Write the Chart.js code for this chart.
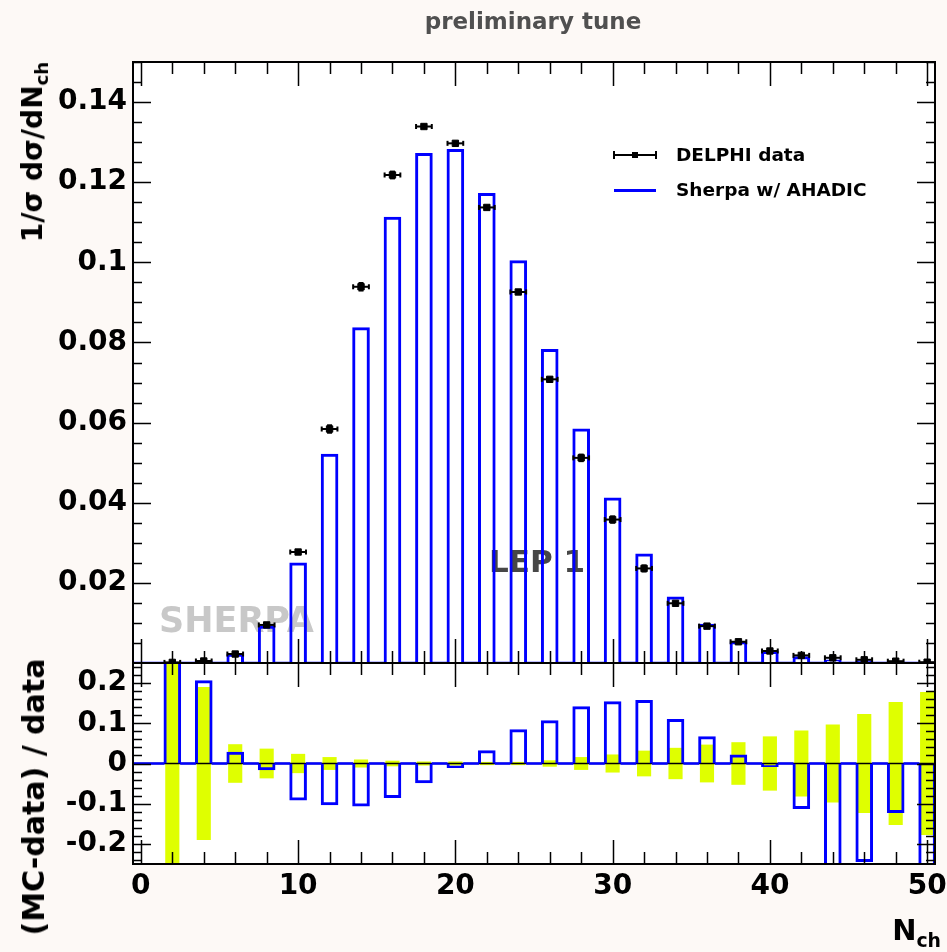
<!DOCTYPE html>
<html>
<head>
<meta charset="utf-8">
<script src="https://cdn.jsdelivr.net/npm/chart.js@4.4.0/dist/chart.umd.min.js"></script>
<style>
html,body{margin:0;padding:0;background:#fdf9f6;}
#wrap{position:relative;width:947px;height:952px;overflow:hidden;font-family:"DejaVu Sans",sans-serif;font-weight:bold;}
canvas{position:absolute;left:0;top:0;}
.t{position:absolute;white-space:nowrap;line-height:1;color:#000;}
.t sub{font-size:65%;vertical-align:-0.35em;line-height:0;}
.mk{position:absolute;}
</style>
</head>
<body>
<div id="wrap">
<canvas id="topChart" width="947" height="952"></canvas>
<canvas id="botChart" width="947" height="952"></canvas>
<div class="t" id="title" style="left:533px;top:10px;font-size:23px;color:#505050;transform:translateX(-50%);">preliminary tune</div>
<div class="mk" style="left:613px;top:154px;width:44px;height:2px;background:#000;"></div>
<div class="mk" style="left:613px;top:151px;width:2px;height:8px;background:#000;"></div>
<div class="mk" style="left:655px;top:151px;width:2px;height:8px;background:#000;"></div>
<div class="mk" style="left:632px;top:152px;width:6px;height:6px;background:#000;"></div>
<div class="t" style="left:676px;top:155px;font-size:18.5px;transform:translateY(-50%);">DELPHI data</div>
<div class="mk" style="left:614px;top:189px;width:42px;height:3px;background:#0000ff;"></div>
<div class="t" style="left:676px;top:190px;font-size:18.5px;transform:translateY(-50%);">Sherpa w/ AHADIC</div>
<div class="t" style="left:33px;top:152px;font-size:28px;transform:translate(-50%,-50%) rotate(-90deg);">1/σ dσ/dN<sub>ch</sub></div>
<div class="t" style="left:34px;top:797px;font-size:30px;transform:translate(-50%,-50%) rotate(-90deg);">(MC-data) / data</div>
<div class="t" style="right:6px;top:916px;font-size:29px;">N<sub>ch</sub></div>
</div>
<script>
// ---- data ----
const nch = [2,4,6,8,10,12,14,16,18,20,22,24,26,28,30,32,34,36,38,40,42,44,46,48,50];
const mcValues = [0.0002,0.0006,0.0023,0.0093,0.0251,0.0522,0.0838,0.1114,0.1273,0.1283,0.1173,0.1005,0.0784,0.0585,0.0413,0.0273,0.0166,0.0098,0.0054,0.0030,0.0017,0.0009,0.0006,0.0004,0.0001];
const dataValues = [0.00015,0.0005,0.00224,0.0095,0.0277,0.0584,0.0939,0.1218,0.1339,0.1297,0.1137,0.0926,0.0708,0.0512,0.0358,0.0236,0.0149,0.0092,0.0053,0.0030,0.0019,0.0013,0.0008,0.00045,0.0002];
const dataErrors = [0.0001,0.0001,0.0001,0.00035,0.00066,0.00093,0.00094,0.00085,0.00067,0.00065,0.00045,0.00037,0.00057,0.00082,0.0008,0.00076,0.00058,0.00043,0.00028,0.0002,0.00016,0.00012,0.0001,0.00007,0.00004];
const ratioValues = [1.0,0.207,0.029,-0.017,-0.092,-0.104,-0.107,-0.086,-0.049,-0.011,0.033,0.085,0.1075,0.1425,0.155,0.158,0.111,0.0675,0.0225,-0.009,-0.113,-0.32,-0.245,-0.123,-0.5];
const ratioErrors = [0.6,0.19,0.048,0.037,0.024,0.016,0.010,0.007,0.005,0.005,0.004,0.004,0.008,0.016,0.0225,0.032,0.039,0.047,0.053,0.0675,0.082,0.097,0.123,0.153,0.178];
const xTicks = [0,10,20,30,40,50];
const upperYTicks = [0.02,0.04,0.06,0.08,0.1,0.12,0.14];
const lowerYTicks = [-0.2,-0.1,0,0.1,0.2];
const xMin = -0.5, xMax = 50.5;
const binHalfWidth = 0.5;

const BLUE = '#0000ff';
const YELLOW = '#dfff00';
const FONT = 'DejaVu Sans';

// histogram baseline segments between the filled bins
const baseline = [];
let edge = xMin;
for (const n of nch) {
  baseline.push({x: edge, y: 0}, {x: n - binHalfWidth, y: 0}, {x: n, y: null});
  edge = n + binHalfWidth;
}
if (edge < xMax) baseline.push({x: edge, y: 0}, {x: xMax, y: 0});

const whiteArea = {
  id: 'whiteArea',
  beforeDraw(chart) {
    const {ctx, chartArea: a} = chart;
    ctx.save();
    ctx.fillStyle = '#ffffff';
    ctx.fillRect(a.left, a.top, a.right - a.left, a.bottom - a.top);
    ctx.restore();
  }
};

const watermarks = {
  id: 'watermarks',
  beforeDatasetsDraw(chart) {
    const ctx = chart.ctx;
    ctx.save();
    ctx.textBaseline = 'alphabetic';
    ctx.font = 'bold 35px "' + FONT + '"';
    ctx.fillStyle = '#c8c8c8';
    ctx.fillText('SHERPA', 159, 632);
    ctx.font = 'bold 31px "' + FONT + '"';
    ctx.fillStyle = '#474747';
    ctx.fillText('LEP 1', 489, 572);
    ctx.restore();
  }
};

const errorBars = {
  id: 'errorBars',
  afterDatasetsDraw(chart) {
    const {ctx, chartArea: a, scales: {x, y}} = chart;
    ctx.save();
    ctx.beginPath();
    ctx.rect(a.left, a.top, a.right - a.left, a.bottom - a.top);
    ctx.clip();
    ctx.strokeStyle = '#000';
    ctx.fillStyle = '#000';
    ctx.lineWidth = 2;
    nch.forEach((n, i) => {
      const yc = y.getPixelForValue(dataValues[i]);
      const x0 = x.getPixelForValue(n - binHalfWidth);
      const x1 = x.getPixelForValue(n + binHalfWidth);
      const xc = x.getPixelForValue(n);
      ctx.beginPath();
      ctx.moveTo(x0, yc); ctx.lineTo(x1, yc);
      ctx.stroke();
      ctx.fillRect(x0 - 1, yc - 2.5, 2, 5);
      ctx.fillRect(x1 - 1, yc - 2.5, 2, 5);
      const yt = y.getPixelForValue(dataValues[i] + dataErrors[i]);
      const yb = y.getPixelForValue(dataValues[i] - dataErrors[i]);
      ctx.beginPath();
      ctx.moveTo(xc, yt); ctx.lineTo(xc, yb);
      ctx.stroke();
      if (yb - yt > 6) {
        ctx.fillRect(xc - 2.5, yt - 1, 5, 2);
        ctx.fillRect(xc - 2.5, yb - 1, 5, 2);
      }
    });
    ctx.restore();
  }
};

const frameTicks = {
  id: 'frameTicks',
  afterDraw(chart, args, o) {
    const {ctx, chartArea: a, scales: {x, y}} = chart;
    ctx.save();
    ctx.strokeStyle = '#000';
    ctx.lineWidth = 1.5;
    const isMajor = (v, step) => Math.abs(v / step - Math.round(v / step)) < 1e-6;
    ctx.beginPath();
    for (let k = Math.ceil(x.min / o.xMinor); k * o.xMinor <= x.max + 1e-9; k++) {
      const v = k * o.xMinor;
      const px = Math.round(x.getPixelForValue(v)) + 0.5;
      const len = isMajor(v, o.xMajor) ? 24 : 12;
      ctx.moveTo(px, a.bottom); ctx.lineTo(px, a.bottom - len);
      ctx.moveTo(px, a.top); ctx.lineTo(px, a.top + len);
    }
    for (let k = Math.ceil((y.min - 1e-9) / o.yMinor); k * o.yMinor <= y.max + 1e-9; k++) {
      const v = k * o.yMinor;
      const py = Math.round(y.getPixelForValue(v)) + 0.5;
      const len = isMajor(v, o.yMajor) ? 18 : 9;
      ctx.moveTo(a.left, py); ctx.lineTo(a.left + len, py);
      ctx.moveTo(a.right, py); ctx.lineTo(a.right - len, py);
    }
    ctx.stroke();
    ctx.lineWidth = 2;
    ctx.strokeRect(a.left, a.top, a.right - a.left, a.bottom - a.top);
    ctx.restore();
  }
};

const tickFont = {family: FONT, weight: 'bold', size: 28};

Chart.defaults.animation = false;

new Chart(document.getElementById('topChart'), {
  type: 'bar',
  data: {
    datasets: [
      {type: 'line', label: 'DELPHI data', data: nch.map((n, i) => ({x: n, y: dataValues[i]})),
        showLine: false, pointStyle: 'rect', pointRadius: 4.5, pointBackgroundColor: '#000',
        pointBorderColor: '#000', pointBorderWidth: 1, order: 0},
      {type: 'bar', label: 'Sherpa w/ AHADIC', data: nch.map((n, i) => ({x: n, y: mcValues[i]})),
        backgroundColor: 'rgba(0,0,0,0)', borderColor: BLUE, borderWidth: 3, borderSkipped: 'start',
        barPercentage: 0.56, categoryPercentage: 1, order: 2},
      {type: 'line', label: 'baseline', data: baseline, borderColor: BLUE, borderWidth: 2.5,
        pointRadius: 0, spanGaps: false, clip: false, order: 3}
    ]
  },
  options: {
    responsive: false, animation: false, devicePixelRatio: 1,
    layout: {padding: {top: 62, right: 12, bottom: 0, left: 0}, autoPadding: false},
    plugins: {legend: {display: false}, tooltip: {enabled: false},
      frameTicks: {xMinor: 2, xMajor: 10, yMinor: 0.005, yMajor: 0.02}},
    scales: {
      x: {type: 'linear', min: xMin, max: xMax, offset: false,
        grid: {display: false, drawTicks: false}, border: {display: false}, ticks: {display: false},
        afterBuildTicks(s) { s.ticks = xTicks.map(v => ({value: v})); },
        afterFit(s) { s.height = 289; s.paddingLeft = 0; s.paddingRight = 0; }},
      y: {type: 'linear', min: 0, max: 0.15,
        grid: {display: false, drawTicks: false}, border: {display: false},
        ticks: {font: tickFont, color: '#000', padding: 6, callback: v => String(v)},
        afterBuildTicks(s) { s.ticks = upperYTicks.map(v => ({value: v})); },
        afterFit(s) { s.width = 133; s.paddingTop = 0; s.paddingBottom = 0; }}
    }
  },
  plugins: [whiteArea, watermarks, errorBars, frameTicks]
});

new Chart(document.getElementById('botChart'), {
  type: 'bar',
  data: {
    datasets: [
      {type: 'bar', label: 'data uncertainty', data: nch.map((n, i) => ({x: n, y: [-ratioErrors[i], ratioErrors[i]]})),
        backgroundColor: YELLOW, borderWidth: 0, barPercentage: 0.45, categoryPercentage: 1, grouped: false, order: 4},
      {type: 'line', label: 'zero', data: [{x: xMin, y: 0}, {x: xMax, y: 0}], borderColor: '#000',
        borderWidth: 1.5, pointRadius: 0, order: 3},
      {type: 'line', label: 'baseline', data: baseline, borderColor: BLUE, borderWidth: 2.5,
        pointRadius: 0, spanGaps: false, order: 2},
      {type: 'bar', label: '(MC-data)/data', data: nch.map((n, i) => ({x: n, y: [0, ratioValues[i]]})),
        backgroundColor: 'rgba(0,0,0,0)', borderColor: BLUE, borderWidth: 3, borderSkipped: 'start',
        barPercentage: 0.56, categoryPercentage: 1, grouped: false, order: 1}
    ]
  },
  options: {
    responsive: false, animation: false, devicePixelRatio: 1,
    layout: {padding: {top: 663, right: 12, bottom: 0, left: 0}, autoPadding: false},
    plugins: {legend: {display: false}, tooltip: {enabled: false},
      frameTicks: {xMinor: 2, xMajor: 10, yMinor: 0.02, yMajor: 0.1}},
    scales: {
      x: {type: 'linear', min: xMin, max: xMax, offset: false,
        grid: {display: false, drawTicks: false}, border: {display: false},
        ticks: {font: tickFont, color: '#000', padding: 6, autoSkip: false, maxRotation: 0, callback: v => String(v)},
        afterBuildTicks(s) { s.ticks = xTicks.map(v => ({value: v})); },
        afterFit(s) { s.height = 88; s.paddingLeft = 0; s.paddingRight = 0; }},
      y: {type: 'linear', min: -0.25, max: 0.25,
        grid: {display: false, drawTicks: false}, border: {display: false},
        ticks: {font: tickFont, color: '#000', padding: 6, callback: v => String(v)},
        afterBuildTicks(s) { s.ticks = lowerYTicks.map(v => ({value: v})); },
        afterFit(s) { s.width = 133; s.paddingTop = 0; s.paddingBottom = 0; }}
    }
  },
  plugins: [whiteArea, frameTicks]
});
</script>
</body>
</html>
